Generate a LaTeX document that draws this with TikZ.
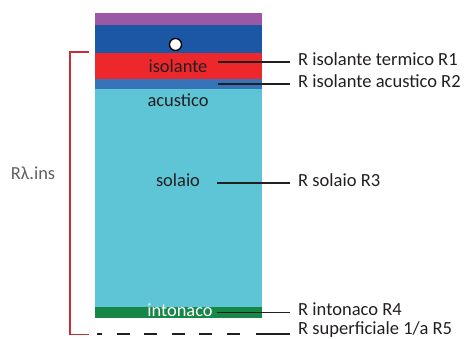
\documentclass[tikz,border=0pt]{standalone}
\usepackage{fontspec}
\setmainfont{Carlito}
\usepackage{tikz}
\usetikzlibrary{calc}

\definecolor{viola}{RGB}{155,89,165}
\definecolor{bluscuro}{RGB}{27,87,165}
\definecolor{rosso}{RGB}{237,40,45}
\definecolor{blumedio}{RGB}{55,115,185}
\definecolor{ciano}{RGB}{93,197,213}
\definecolor{verde}{RGB}{22,135,70}
\definecolor{testo}{RGB}{35,31,32}
\definecolor{grigio}{RGB}{95,95,95}
\definecolor{staffa}{RGB}{200,45,55}

\begin{document}
\begin{tikzpicture}[
    x=1bp, y=-1bp,
    layer/.style={draw=none, anchor=north west, minimum width=167bp, inner sep=0pt, outer sep=0pt},
    ltxt/.style={inner sep=0pt, text height=13bp, text depth=6bp, font=\fontsize{18.5}{20}\selectfont, text=testo},
    lbl/.style={anchor=west, inner xsep=8bp, inner ysep=0pt, text height=13bp, text depth=6bp, font=\fontsize{18.6}{20}\selectfont, text=testo},
    lead/.style={line width=1.6pt, testo},
    brk/.style={line width=1.5pt, staffa}
]
\useasboundingbox (0,0) rectangle (467,338);

% --- STRATIGRAFIA ---
\node[layer, fill=viola, minimum height=12.5bp] (viola) at (95,12.7) {};
\node[layer, fill=bluscuro, minimum height=27.5bp] (massetto) at (95,25.2) {};
\node[layer, fill=rosso, minimum height=26.6bp] (isol) at (95,52.7) {};
\node[layer, fill=blumedio, minimum height=9.4bp] (acu) at (95,79.3) {};
\node[layer, fill=ciano, minimum height=218bp] (sol) at (95,88.7) {};
\node[layer, fill=verde, minimum height=11bp] (into) at (95,306.7) {};

\node[circle, draw=black, line width=1.3pt, fill=white, minimum size=12bp, inner sep=0pt] (tubo) at (175.5,44.5) {};

% testi dentro gli strati
\node[ltxt] (tisol) at (178,68.8) {isolante};
\node[ltxt] (tacu) at (178,102.5) {acustico};
\node[ltxt] (tsol) at (178,183) {solaio};
\node[ltxt, text=white] (tinto) at (180,312.5) {intonaco};

% --- ETICHETTE ---
\node[lbl] (r1) at (290,62) {R isolante termico R1};
\node[lbl] (r2) at (290,84) {R isolante acustico R2};
\node[lbl] (r3) at (290,182.7) {R solaio R3};
\node[lbl] (r4) at (290,312.3) {R intonaco R4};
\node[lbl, text depth=12.5bp] (r5) at (290,334) {R superficiale 1/a R5};

\coordinate (r1a) at (218,62);
\coordinate (r2a) at (218,84);
\coordinate (r3a) at (217,182.7);
\coordinate (r4a) at (217,312.3);
\coordinate (r5a) at (256,334);

\draw[lead] (r1a) -- (r1);
\draw[lead] (r2a) -- (r2);
\draw[lead] (r3a) -- (r3);
\draw[lead] (r4a) -- (r4);
\draw[lead] (r5a) -- (r5);

% superficie inferiore tratteggiata
\coordinate (d0) at (97,334);
\coordinate (d1) at (241,334);
\draw[lead, dash pattern=on 13bp off 14.5bp, dash phase=8bp] (d0) -- (d1);

% --- PARENTESI R lambda ---
\coordinate (bt) at (89,52);
\coordinate (bb) at (89,334.5);
\draw[brk] (bt) -- ++(-19,0) |- (bb);
\node[ltxt, text=grigio] (rlam) at (33,175.8) {Rλ.ins};

\end{tikzpicture}
\end{document}
